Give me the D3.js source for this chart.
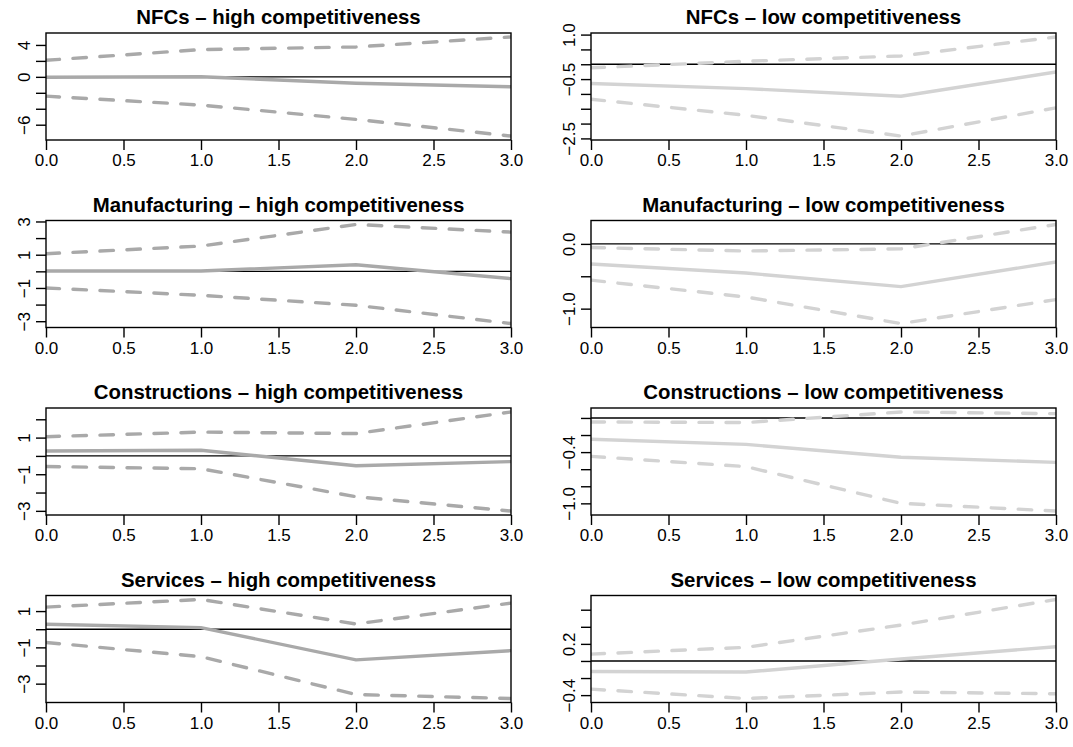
<!DOCTYPE html>
<html>
<head>
<meta charset="utf-8">
<script src="https://cdn.jsdelivr.net/npm/d3@7"></script>
<style>
    body { margin: 0; background: #ffffff; }
    svg text { font-family: "Liberation Sans", Arial, Helvetica, sans-serif; }
</style>
</head>
<body>
<svg id="chart" width="1073" height="747"></svg>
<script>
// horizons on the x axis
const steps = [0, 1, 2, 3];
const xTicks = [0, 0.5, 1, 1.5, 2, 2.5, 3];

const sectors = ["NFCs", "Manufacturing", "Constructions", "Services"];
const levels = ["high", "low"];
const levelColors = ["#a9a9a9", "#d3d3d3"];

// panel order: NFCs high, NFCs low, Manufacturing high, Manufacturing low, ...
const irfMid = [
    [-0.05, 0.02, -0.8, -1.25],
    [-0.65, -0.82, -1.08, -0.26],
    [0.02, 0.02, 0.4, -0.44],
    [-0.31, -0.45, -0.66, -0.28],
    [0.27, 0.31, -0.54, -0.31],
    [-0.25, -0.31, -0.46, -0.52],
    [0.27, 0.09, -1.69, -1.18],
    [-0.124, -0.13, 0.023, 0.167]
];
const irfLower = [
    [-2.42, -3.54, -5.33, -7.42],
    [-1.18, -1.72, -2.42, -1.47],
    [-1.0, -1.44, -2.04, -3.14],
    [-0.56, -0.82, -1.23, -0.86],
    [-0.58, -0.70, -2.23, -3.01],
    [-0.45, -0.57, -1.0, -1.09],
    [-0.73, -1.51, -3.6, -3.82],
    [-0.33, -0.44, -0.364, -0.384]
];
const irfUpper = [
    [2.08, 3.42, 3.75, 5.0],
    [-0.12, 0.10, 0.28, 0.92],
    [1.06, 1.52, 2.82, 2.36],
    [-0.056, -0.11, -0.077, 0.30],
    [1.05, 1.30, 1.22, 2.4],
    [-0.047, -0.054, 0.07, 0.05],
    [1.22, 1.64, 0.29, 1.44],
    [0.08, 0.16, 0.42, 0.72]
];

// y ticks and the ones that carry a label
const yTicks = [
    [-6, -4, -2, 0, 2, 4],
    [-2.5, -2, -1.5, -1, -0.5, 0, 0.5, 1],
    [-3, -2, -1, 0, 1, 2, 3],
    [-1, -0.5, 0],
    [-3, -2, -1, 0, 1, 2],
    [-1, -0.8, -0.6, -0.4, -0.2, 0],
    [-3, -2, -1, 0, 1],
    [-0.4, -0.2, 0, 0.2, 0.4, 0.6]
];
const yLabels = [
    [-6, 0, 4],
    [-2.5, -0.5, 1],
    [-3, -1, 1, 3],
    [-1, 0],
    [-3, -1, 1],
    [-1, -0.4],
    [-3, -1, 1],
    [-0.4, 0.2]
];
const yDigits = [0, 1, 0, 1, 0, 1, 0, 1];

const colLeft = [46, 591];
const plotW = 465;
const plotH = 107;
const rowTop = 33;
const rowStep = 187.5;

const svg = d3.select("#chart");
const x = d3.scaleLinear().domain([0, 3]).range([0, plotW]);

for (let i = 0; i < 8; i++) {
    const r = Math.floor(i / 2);
    const c = i % 2;
    const color = levelColors[c];

    const g = svg.append("g")
        .attr("transform", "translate(" + colLeft[c] + "," + (rowTop + r * rowStep) + ")");

    const all = irfMid[i].concat(irfLower[i], irfUpper[i]);
    const ext = d3.extent(all);
    const pad = (ext[1] - ext[0]) * 0.04;
    const y = d3.scaleLinear().domain([ext[0] - pad, ext[1] + pad]).range([plotH, 0]);

    g.append("clipPath")
        .attr("id", "clip-" + i)
        .append("rect")
        .attr("width", plotW)
        .attr("height", plotH);

    const plot = g.append("g").attr("clip-path", "url(#clip-" + i + ")");

    plot.append("line")
        .attr("x1", 0).attr("x2", plotW)
        .attr("y1", y(0)).attr("y2", y(0))
        .style("stroke", "#000000")
        .style("stroke-width", "1.4px");

    const line = d3.line()
        .x((d, j) => x(steps[j]))
        .y(d => y(d));

    [irfLower[i], irfUpper[i]].forEach(series => {
        plot.append("path")
            .attr("d", line(series))
            .style("fill", "none")
            .style("stroke", color)
            .style("stroke-width", "3.4px")
            .style("stroke-linecap", "round")
            .style("stroke-dasharray", "13.5 13.5");
    });

    plot.append("path")
        .attr("d", line(irfMid[i]))
        .style("fill", "none")
        .style("stroke", color)
        .style("stroke-width", "3.4px")
        .style("stroke-linecap", "round");

    g.append("rect")
        .attr("width", plotW)
        .attr("height", plotH)
        .style("fill", "none")
        .style("stroke", "#000000")
        .style("stroke-width", "1.4px");

    const xAxis = g.append("g")
        .attr("transform", "translate(0," + plotH + ")")
        .call(d3.axisBottom(x)
            .tickValues(xTicks)
            .tickSize(10)
            .tickPadding(4)
            .tickFormat(d3.format(".1f")));

    const fmt = d3.format("." + yDigits[i] + "f");
    const yAxis = g.append("g")
        .call(d3.axisLeft(y)
            .tickValues(yTicks[i])
            .tickSize(10)
            .tickFormat(d => yLabels[i].some(v => Math.abs(v - d) < 1e-9) ? fmt(d) : ""));

    [xAxis, yAxis].forEach(a => {
        a.select(".domain").remove();
        a.attr("font-family", null).attr("font-size", null);
        a.selectAll("line").style("stroke", "#000000").style("stroke-width", "1.4px");
        a.selectAll("text").style("font-size", "17px").style("fill", "#000000");
    });

    yAxis.selectAll("text")
        .attr("transform", "rotate(-90)")
        .attr("x", 0)
        .attr("y", -16)
        .attr("dy", null)
        .attr("text-anchor", "middle");

    g.append("text")
        .attr("x", plotW / 2)
        .attr("y", -9)
        .attr("text-anchor", "middle")
        .style("font-size", "20.4px")
        .style("font-weight", "bold")
        .text(sectors[r] + " \u2013 " + levels[c] + " competitiveness");
}
</script>
</body>
</html>
